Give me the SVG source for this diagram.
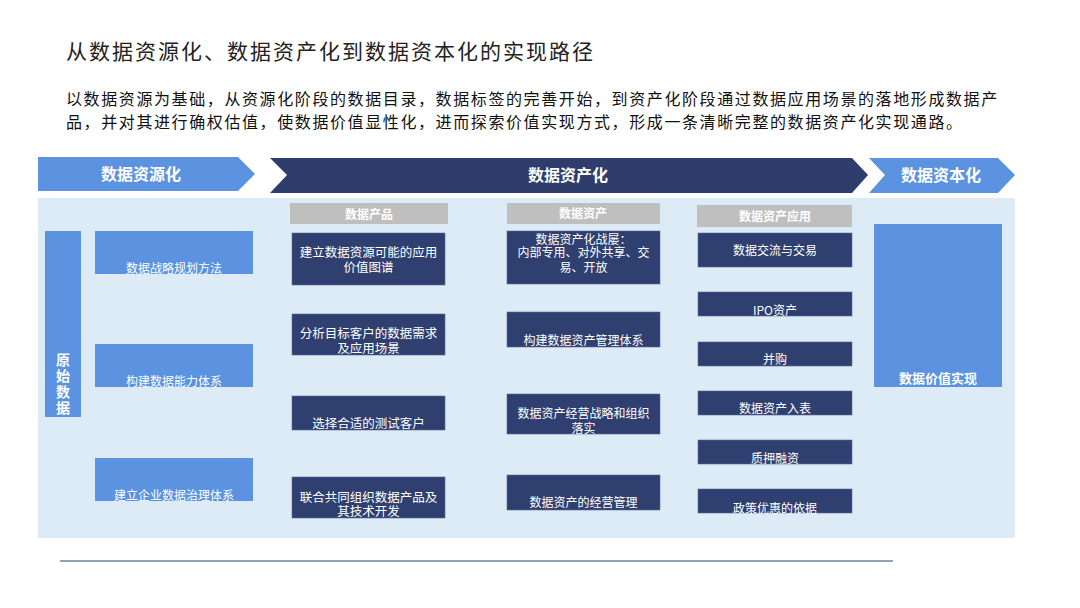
<svg xmlns="http://www.w3.org/2000/svg" width="1080" height="608" viewBox="0 0 1080 608">
<style>
text{font-family:"Noto Sans CJK SC","Noto Sans",sans-serif;}
.t{font-size:12px;fill:#ffffff;text-anchor:middle;}
.hd{font-size:12px;font-weight:bold;fill:#ffffff;text-anchor:middle;}
.ar{font-size:16px;font-weight:bold;fill:#ffffff;text-anchor:middle;}
.lb{fill:#5B93E1;}
.nv{fill:#2F3F6F;stroke:#5a6a96;stroke-width:0.6;}
.gy{fill:#BFBFBF;}
</style>
<rect width="1080" height="608" fill="#ffffff"/>
<text x="66" y="59" style="font-size:21px;letter-spacing:2px;fill:#222222">从数据资源化、数据资产化到数据资本化的实现路径</text>
<text x="66" y="105" style="font-size:16px;letter-spacing:1.6px;fill:#111111">以数据资源为基础，从资源化阶段的数据目录，数据标签的完善开始，到资产化阶段通过数据应用场景的落地形成数据产</text>
<text x="66" y="128" style="font-size:16px;letter-spacing:1.6px;fill:#111111">品，并对其进行确权估值，使数据价值显性化，进而探索价值实现方式，形成一条清晰完整的数据资产化实现通路。</text>

<g id="stage1"><polygon class="lb" points="38,157 238,157 255,174 238,191 38,191"/><text class="ar" x="141" y="180">数据资源化</text></g>
<g id="stage2"><polygon fill="#2E3D6B" points="270,158 852,158 868,175 852,193 270,193 287,175"/><text class="ar" x="568" y="181">数据资产化</text></g>
<g id="stage3"><polygon class="lb" points="869,158 998,158 1015,175 998,193 869,193 885,175"/><text class="ar" x="941" y="181">数据资本化</text></g>

<rect id="panel" x="38" y="198" width="977" height="340" fill="#DDEBF7"/>

<g id="raw"><rect class="lb" x="45" y="231" width="36" height="186"/>
<text style="font-size:14px;font-weight:bold;fill:#fff;text-anchor:middle"><tspan x="63" y="365">原</tspan><tspan x="63" y="381">始</tspan><tspan x="63" y="397">数</tspan><tspan x="63" y="413">据</tspan></text></g>

<g id="r1"><rect class="lb" x="95" y="231" width="158" height="43"/><text class="t" x="174" y="272.5">数据战略规划方法</text></g>
<g id="r2"><rect class="lb" x="95" y="344" width="158" height="43"/><text class="t" x="174" y="385.5">构建数据能力体系</text></g>
<g id="r3"><rect class="lb" x="95" y="458" width="158" height="43"/><text class="t" x="174" y="499.5">建立企业数据治理体系</text></g>

<g id="h1"><rect class="gy" x="290" y="203" width="158" height="21"/><text class="hd" x="369" y="218.5">数据产品</text></g>
<g id="h2"><rect class="gy" x="507" y="203" width="153" height="21"/><text class="hd" x="583" y="218">数据资产</text></g>
<g id="h3"><rect class="gy" x="697" y="205" width="155" height="22"/><text class="hd" x="775" y="220.5">数据资产应用</text></g>

<g id="p1"><rect class="nv" x="292" y="233" width="153" height="52"/><text class="t" style="font-size:12.5px"><tspan x="368.5" y="256.5">建立数据资源可能的应用</tspan><tspan x="368.5" y="271.5">价值图谱</tspan></text></g>
<g id="p2"><rect class="nv" x="292" y="314" width="153" height="41"/><text class="t" style="font-size:12.5px"><tspan x="368.5" y="337.5">分析目标客户的数据需求</tspan><tspan x="368.5" y="352.5">及应用场景</tspan></text></g>
<g id="p3"><rect class="nv" x="292" y="396" width="153" height="34"/><text class="t" style="font-size:12.5px" x="368.5" y="427.5">选择合适的测试客户</text></g>
<g id="p4"><rect class="nv" x="292" y="477" width="153" height="41"/><text class="t" style="font-size:12.5px"><tspan x="368.5" y="501.5">联合共同组织数据产品及</tspan><tspan x="368.5" y="515.5">其技术开发</tspan></text></g>

<g id="a1"><rect class="nv" x="507" y="231" width="153" height="53"/><text class="t"><tspan x="583.5" y="243.5">数据资产化战屡：</tspan><tspan x="583.5" y="257">内部专用、对外共享、交</tspan><tspan x="583.5" y="271.5">易、开放</tspan></text></g>
<g id="a2"><rect class="nv" x="507" y="312" width="153" height="35"/><text class="t" x="583.5" y="344.5">构建数据资产管理体系</text></g>
<g id="a3"><rect class="nv" x="507" y="394" width="153" height="40"/><text class="t"><tspan x="583.5" y="417.5">数据资产经营战略和组织</tspan><tspan x="583.5" y="432.5">落实</tspan></text></g>
<g id="a4"><rect class="nv" x="507" y="475" width="153" height="35"/><text class="t" x="583.5" y="506.5">数据资产的经营管理</text></g>

<g id="u1"><rect class="nv" x="698" y="233" width="154" height="34"/><text class="t" x="775" y="254.5">数据交流与交易</text></g>
<g id="u2"><rect class="nv" x="698" y="292" width="154" height="24"/><text class="t" x="775" y="314.5">IPO资产</text></g>
<g id="u3"><rect class="nv" x="698" y="342" width="154" height="24"/><text class="t" x="775" y="363.5">并购</text></g>
<g id="u4"><rect class="nv" x="698" y="391" width="154" height="24"/><text class="t" x="775" y="412.5">数据资产入表</text></g>
<g id="u5"><rect class="nv" x="698" y="440" width="154" height="24"/><text class="t" x="775" y="462.5">质押融资</text></g>
<g id="u6"><rect class="nv" x="698" y="489" width="154" height="24"/><text class="t" x="775" y="512.5">政策优惠的依据</text></g>

<g id="value"><rect class="lb" x="874" y="224" width="128" height="163"/><text style="font-size:13px;font-weight:bold;fill:#fff;text-anchor:middle" x="938" y="383">数据价值实现</text></g>

<g id="connectors"><line x1="60" y1="561" x2="893" y2="561" stroke="#6F82A8" stroke-width="1.5"/></g>
</svg>
